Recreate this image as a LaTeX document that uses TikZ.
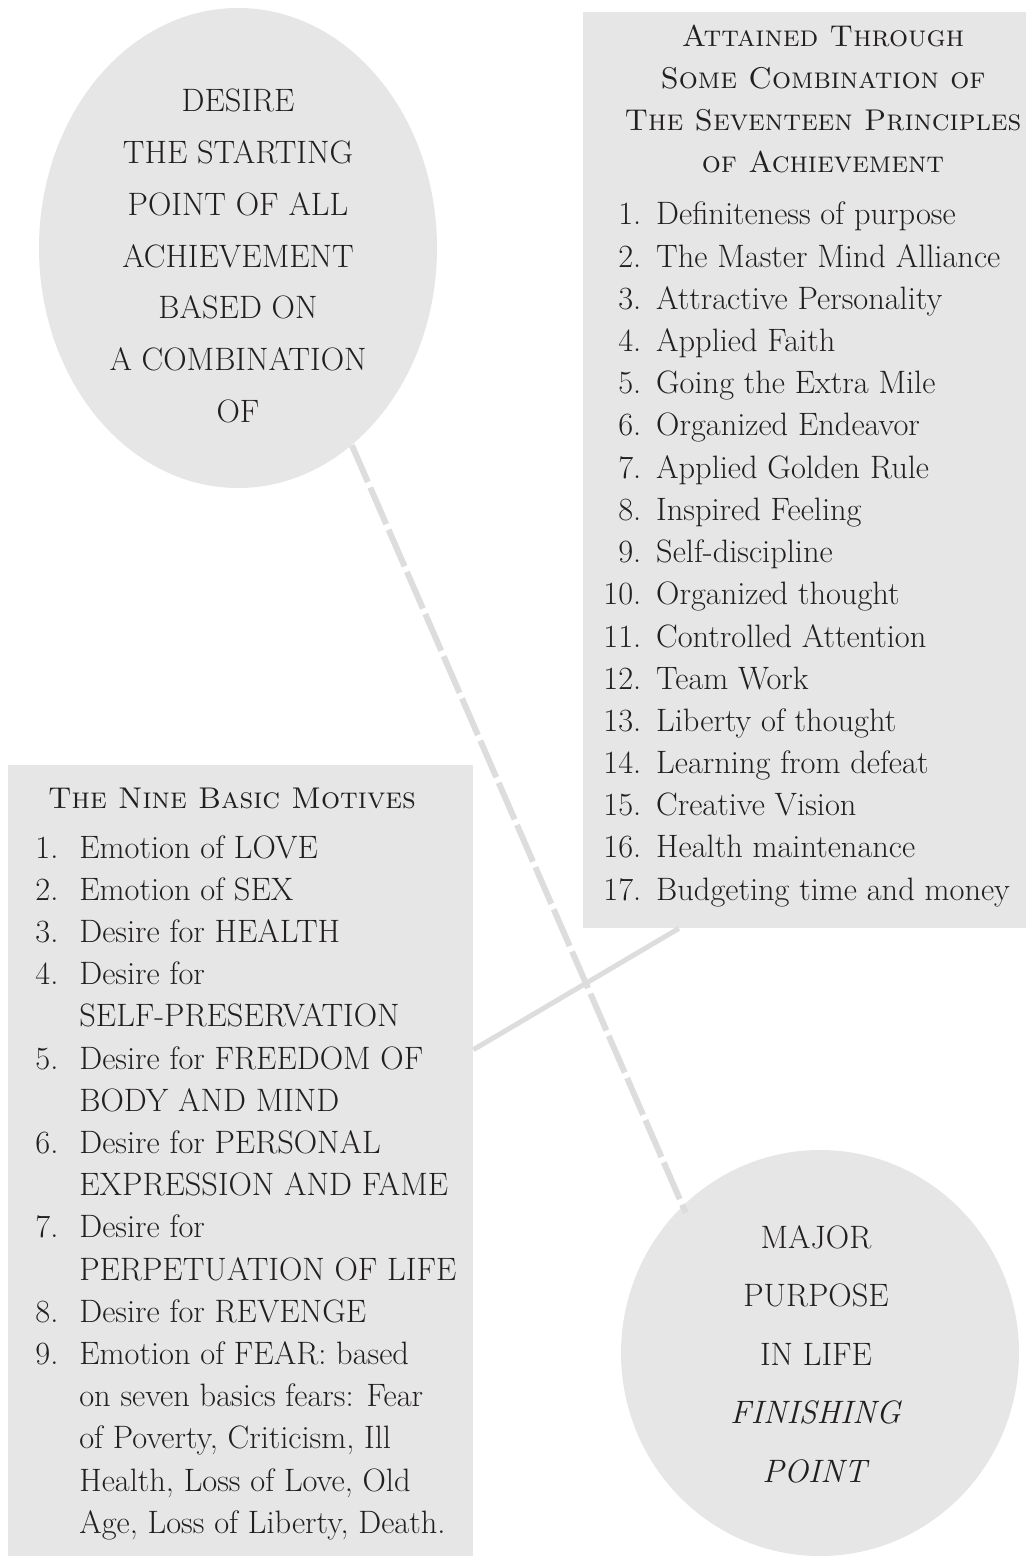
\documentclass[tikz,border=0pt]{standalone}
\usepackage{tikz}
\usetikzlibrary{shapes.geometric,calc}
\definecolor{ink}{HTML}{231F20}
\definecolor{shade}{HTML}{E6E6E6}
\definecolor{wire}{HTML}{DDDDDD}
\tikzstyle{txt}=[inner sep=0pt,text=ink,font=\fontsize{16.2}{21.1}\selectfont]

\begin{document}
\begin{tikzpicture}[x=0.5pt,y=-0.5pt]
  \tikzstyle bx=[fill=shade,inner sep=0pt];
  \tikzstyle ov=[ellipse,fill=shade,inner sep=0pt];
  \tikzstyle dl=[wire,line width=3pt,dash pattern=on 20pt off 3pt,shorten >=-4pt];
  \tikzstyle sl=[wire,line width=2.5pt];
  \def\rx{603}
  \def\lx{35}
  \useasboundingbox (0,0) rectangle (1026,1556);

  % boxes
  \node[bx,minimum width=221.5pt,minimum height=458pt] (principles) at (804.5,470) {};
  \node[bx,minimum width=232.5pt,minimum height=395.5pt] (motives) at (240.5,1160.5) {};

  % ellipses
  \node[ov,minimum width=199pt,minimum height=240pt] (desire) at (238,248) {};
  \node[ov,minimum width=199pt,minimum height=203pt] (purpose) at (820,1353) {};

  % links
  \draw[dl] (desire.-60) -- (purpose.133);
  \draw[sl] ($(motives.north east)!0.36!(motives.south east)$)
    -- ($(principles.south west)!0.217!(principles.south east)$);

  % ellipse text
  \node[txt,anchor=base,font=\fontsize{16.2}{25.85}\selectfont] (desiretxt) at (238,112)
    {\begin{tabular}[t]{@{}c@{}}DESIRE\\THE STARTING\\POINT OF ALL\\ACHIEVEMENT\\BASED ON\\A COMBINATION\\OF\end{tabular}};
  \node[txt,anchor=base,font=\fontsize{16.2}{29.25}\selectfont] (purposetxt) at (816,1248)
    {\begin{tabular}[t]{@{}c@{}}MAJOR\\PURPOSE\\IN LIFE\\\textit{FINISHING}\\\textit{POINT}\end{tabular}};

  % principles
  \node[txt,anchor=base,font=\fontsize{15}{21}\selectfont] (ptitle) at (823,47)
    {\begin{tabular}[t]{@{}c@{}}\textsc{Attained Through}\\\textsc{Some Combination of}\\\textsc{The Seventeen Principles}\\\textsc{of Achievement}\end{tabular}};
  \node[txt,anchor=base west] (plist) at (\rx,225)
    {\begin{tabular}[t]{@{}r@{\hspace{7.5pt}}l@{}}
      1. & Definiteness of purpose\\
      2. & The Master Mind Alliance\\
      3. & Attractive Personality\\
      4. & Applied Faith\\
      5. & Going the Extra Mile\\
      6. & Organized Endeavor\\
      7. & Applied Golden Rule\\
      8. & Inspired Feeling\\
      9. & Self-discipline\\
      10. & Organized thought\\
      11. & Controlled Attention\\
      12. & Team Work\\
      13. & Liberty of thought\\
      14. & Learning from defeat\\
      15. & Creative Vision\\
      16. & Health maintenance\\
      17. & Budgeting time and money
    \end{tabular}};

  % motives
  \node[txt,anchor=base,font=\fontsize{15}{21}\selectfont] (mtitle) at (232,808) {\textsc{The Nine Basic Motives}};
  \node[txt,anchor=base west] (mlist) at (\lx,858)
    {\begin{tabular}[t]{@{}r@{\hspace{10.5pt}}l@{}}
      1. & Emotion of LOVE\\
      2. & Emotion of SEX\\
      3. & Desire for HEALTH\\
      4. & Desire for\\
         & SELF-PRESERVATION\\
      5. & Desire for FREEDOM OF\\
         & BODY AND MIND\\
      6. & Desire for PERSONAL\\
         & EXPRESSION AND FAME\\
      7. & Desire for\\
         & PERPETUATION OF LIFE\\
      8. & Desire for REVENGE\\
      9. & Emotion of FEAR: based\\
         & on seven basics fears: Fear\\
         & of Poverty, Criticism, Ill\\
         & Health, Loss of Love, Old\\
         & Age, Loss of Liberty, Death.
    \end{tabular}};
\end{tikzpicture}
\end{document}
